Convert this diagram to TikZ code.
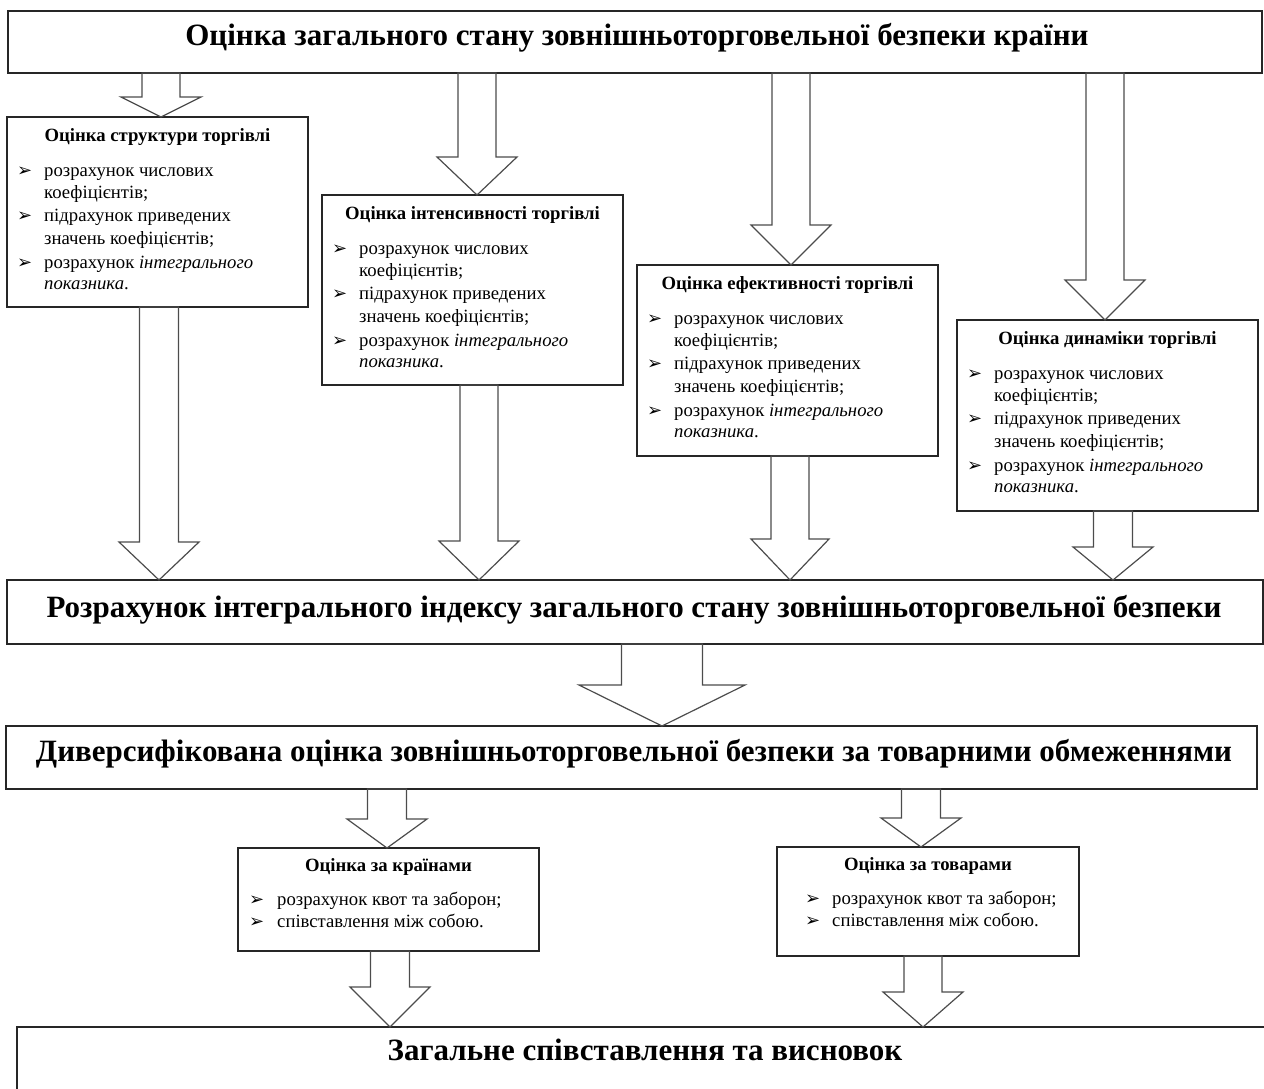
\documentclass[tikz,border=0pt]{standalone}
\usepackage{fontspec}
\setmainfont{Liberation Serif}
\newfontfamily\symf{DejaVu Sans}
\usetikzlibrary{calc}

\tikzset{
  boxst/.style={draw=black!85, line width=1.3pt, outer sep=0pt, inner sep=0pt},
  arrowst/.style={draw=black!70, line width=1.2pt, line join=miter},
  bigtitle/.style={font=\fontsize{31}{36}\selectfont\bfseries, inner sep=0pt, anchor=base},
  boxtitle/.style={font=\fontsize{18.7}{22}\selectfont\bfseries, inner sep=0pt, anchor=base},
  itemst/.style={font=\fontsize{18.7}{22}\selectfont, inner sep=0pt, anchor=base west},
  bulletst/.style={font=\fontsize{18}{18}\selectfont\symf, inner sep=0pt, anchor=base west},
}

\newcommand\blockarrow[6]{%
  \draw[arrowst] let \p1=(#1.south), \p2=(#2.north) in
    ({(#3-#4)*1pt},\y1) -- ({(#3-#4)*1pt},{\y2+#6pt}) -- ({(#3-#5)*1pt},{\y2+#6pt})
    -- ({#3*1pt},\y2) -- ({(#3+#5)*1pt},{\y2+#6pt}) -- ({(#3+#4)*1pt},{\y2+#6pt})
    -- ({(#3+#4)*1pt},\y1) -- cycle;}

\newcommand\tradebox[5]{%
  \node[boxst, anchor=north west, minimum width=301pt, minimum height=#4pt] (#1) at (#2,#3) {};
  \node[boxtitle] (#1t) at (#2+150.5,#3+24) {#5};
  \node[bulletst] (#1b1) at (#2+10,#3+59) {➢};
  \node[itemst] (#1i1) at (#2+37,#3+59) {розрахунок числових};
  \node[itemst] (#1i2) at (#2+37,#3+81) {коефіцієнтів;};
  \node[bulletst] (#1b2) at (#2+10,#3+104) {➢};
  \node[itemst] (#1i3) at (#2+37,#3+104) {підрахунок приведених};
  \node[itemst] (#1i4) at (#2+37,#3+127) {значень коефіцієнтів;};
  \node[bulletst] (#1b3) at (#2+10,#3+151) {➢};
  \node[itemst] (#1i5) at (#2+37,#3+151) {розрахунок \textit{інтегрального}};
  \node[itemst] (#1i6) at (#2+37,#3+172) {\textit{показника}.};
}

\newcommand\subbox[8]{%
  \node[boxst, anchor=north west, minimum width=#4pt, minimum height=#5pt] (#1) at (#2,#3) {};
  \node[boxtitle] (#1t) at (#2+#4/2,#3+23) {#6};
  \node[bulletst] (#1b1) at (#2+#7,#3+57) {➢};
  \node[itemst] (#1i1) at (#2+#8,#3+57) {розрахунок квот та заборон;};
  \node[bulletst] (#1b2) at (#2+#7,#3+79) {➢};
  \node[itemst] (#1i2) at (#2+#8,#3+79) {співставлення між собою.};
}

\begin{document}
\begin{tikzpicture}[x=1pt, y=-1pt]
\useasboundingbox (0,0) rectangle (1264,1088);
\clip (0,0) rectangle (1264,1088);

% main boxes
\node[boxst, anchor=north west, minimum width=1254pt, minimum height=62pt] (top) at (8,11) {};
\node[bigtitle] (topt) at (637,45) {Оцінка загального стану зовнішньоторговельної безпеки країни};

\node[boxst, anchor=north west, minimum width=1256pt, minimum height=64pt] (integ) at (7,580) {};
\node[bigtitle] (integt) at (634,617) {Розрахунок інтегрального індексу загального стану зовнішньоторговельної безпеки};

\node[boxst, anchor=north west, minimum width=1251pt, minimum height=63pt] (div) at (6,726) {};
\node[bigtitle] (divt) at (634,761) {Диверсифікована оцінка зовнішньоторговельної безпеки за товарними обмеженнями};

\node[boxst, anchor=north west, minimum width=1260pt, minimum height=90pt] (fin) at (17,1027) {};
\node[bigtitle] (fint) at (645,1060) {Загальне співставлення та висновок};

% trade boxes
\tradebox{b1}{7}{117}{190}{Оцінка структури торгівлі}
\tradebox{b2}{322}{195}{190}{Оцінка інтенсивності торгівлі}
\tradebox{b3}{637}{265}{191}{Оцінка ефективності торгівлі}
\tradebox{b4}{957}{320}{191}{Оцінка динаміки торгівлі}

% sub boxes
\subbox{k}{238}{848}{301}{103}{Оцінка за країнами}{11}{39}
\subbox{t}{777}{847}{302}{109}{Оцінка за товарами}{28}{55}

% block arrows
\blockarrow{top}{b1}{161}{19}{40}{20}
\blockarrow{top}{b2}{477}{19}{40}{38}
\blockarrow{top}{b3}{791}{19}{40}{40}
\blockarrow{top}{b4}{1105}{19}{40}{40}
\blockarrow{b1}{integ}{159}{19.5}{40}{38}
\blockarrow{b2}{integ}{479}{19}{40}{39}
\blockarrow{b3}{integ}{790}{19}{39}{41}
\blockarrow{b4}{integ}{1113}{19.5}{40}{33}
\blockarrow{integ}{div}{662}{40.5}{83}{41}
\blockarrow{div}{k}{387}{19.5}{40}{29}
\blockarrow{div}{t}{921}{19.5}{40}{29}
\blockarrow{k}{fin}{390}{19.5}{40}{40}
\blockarrow{t}{fin}{923}{19}{40}{35}
\end{tikzpicture}
\end{document}
